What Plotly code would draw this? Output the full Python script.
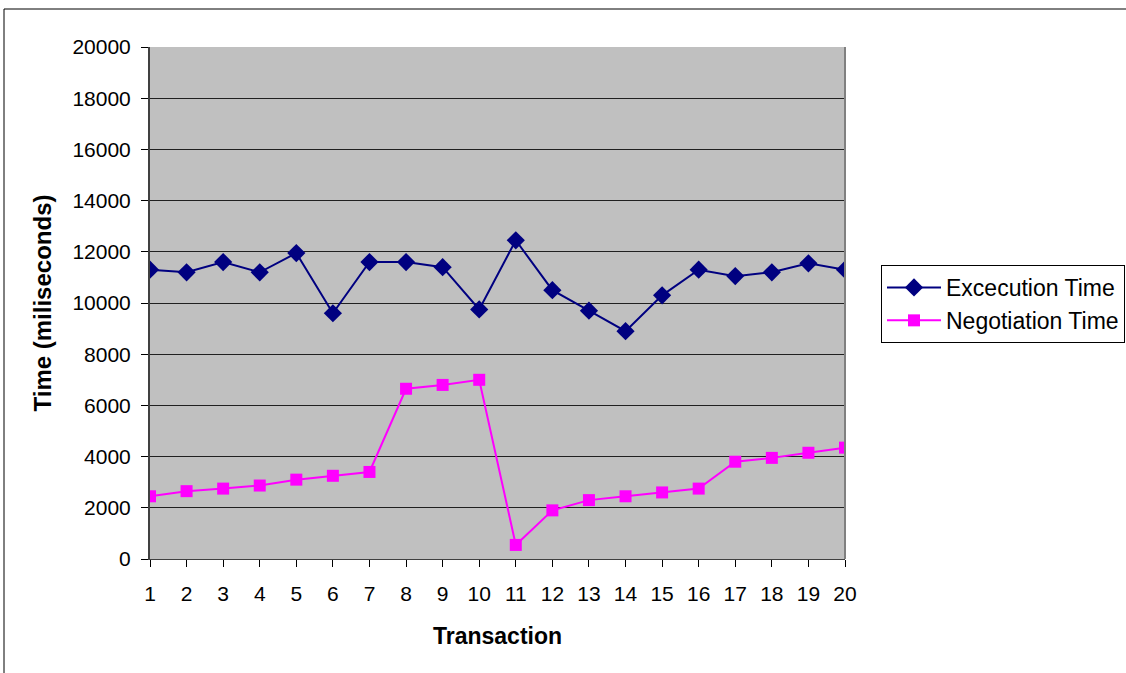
import plotly.graph_objects as go

transactions = list(range(1, 21))
execution_time = [11300, 11200, 11600, 11200, 11950, 9600, 11600, 11600, 11400, 9750,
                  12450, 10500, 9700, 8900, 10300, 11300, 11050, 11200, 11550, 11300]
negotiation_time = [2450, 2650, 2750, 2870, 3100, 3250, 3400, 6650, 6800, 7000,
                    550, 1900, 2300, 2450, 2600, 2750, 3800, 3950, 4150, 4350]
y_ticks = list(range(0, 20001, 2000))

FONT = "Arial, Liberation Sans, sans-serif"

fig = go.Figure()
fig.add_trace(go.Scatter(
    x=transactions, y=execution_time, mode="lines+markers", name="Excecution Time",
    line=dict(color="#000080", width=2),
    marker=dict(symbol="diamond", size=14, color="#000080"),
))
fig.add_trace(go.Scatter(
    x=transactions, y=negotiation_time, mode="lines+markers", name="Negotiation Time",
    line=dict(color="#FF00FF", width=2),
    marker=dict(symbol="square", size=12, color="#FF00FF"),
))

fig.update_layout(
    width=1126, height=673,
    margin=dict(l=150, r=281, t=47, b=114, autoexpand=False),
    paper_bgcolor="white",
    plot_bgcolor="#C0C0C0",
    font=dict(family=FONT, size=21, color="black"),
    showlegend=True,
    legend=dict(
        xref="container", yref="container",
        x=881 / 1126, y=1 - 265 / 673, xanchor="left", yanchor="top",
        bgcolor="white", bordercolor="black", borderwidth=1,
        font=dict(family=FONT, size=23, color="black"),
        itemwidth=54,
    ),
    xaxis=dict(
        range=[1, 20], tickvals=transactions, ticktext=[str(t) for t in transactions],
        showgrid=False, zeroline=False,
        showline=True, linecolor="#404040", linewidth=1,
        ticks="outside", ticklen=7, tickcolor="black",
        ticklabelstandoff=9,
        title=dict(text="<b>Transaction</b>", font=dict(family=FONT, size=23), standoff=23),
        automargin=False,
    ),
    yaxis=dict(
        range=[0, 20000], tickvals=y_ticks, ticktext=[str(v) for v in y_ticks],
        showgrid=True, gridcolor="#202020", gridwidth=1, zeroline=False,
        showline=True, linecolor="#404040", linewidth=2,
        ticks="outside", ticklen=7, tickcolor="black",
        ticklabelstandoff=6,
        title=dict(text="<b>Time (miliseconds)</b>", font=dict(family=FONT, size=24), standoff=14),
        automargin=False,
    ),
)

# right edge of plot area
fig.add_shape(type="line", xref="paper", yref="paper", x0=1, x1=1, y0=0, y1=1,
              line=dict(color="#808080", width=2))
# outer chart border
fig.add_shape(type="rect", xref="paper", yref="paper",
              x0=(4 - 150) / 695, x1=(1140 - 150) / 695,
              y0=(559 - 690) / 512, y1=(559 - 9) / 512,
              line=dict(color="black", width=1), layer="below")

fig.write_html("out.html", config={"displayModeBar": False},
               post_script="document.body.style.margin='0';")
